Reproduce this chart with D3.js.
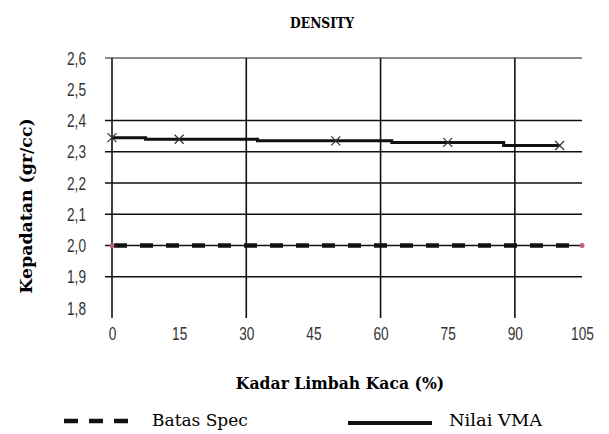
<!DOCTYPE html>
<html><head><meta charset="utf-8">
<script src="https://cdn.jsdelivr.net/npm/d3@7"></script>
<style>body{margin:0;background:#fff}</style>
</head><body>
<script>
const xTicks = [0, 15, 30, 45, 60, 75, 90, 105];
const yTicks = [1.8, 1.9, 2.0, 2.1, 2.2, 2.3, 2.4, 2.5, 2.6];
const yGrid = [1.9, 2.0, 2.1, 2.2, 2.3, 2.4, 2.6];
const xGrid = [0, 30, 60, 90];
const vmaX = [0, 15, 50, 75, 100];
const vmaY = [2.345, 2.34, 2.335, 2.33, 2.32];
const specX = [0, 105];
const specY = [2.0, 2.0];

const W = 609, H = 434;
const SERIF = "DejaVu Serif";
const SANS = "'Liberation Sans', Arial, sans-serif";
const svg = d3.select("body").append("svg").attr("width", W).attr("height", H);
const x = d3.scaleLinear().domain([0, 105]).range([112, 582]);
const y = d3.scaleLinear().domain([1.8, 2.6]).range([308, 58]);
const fmt = d => d3.format(".1f")(d).replace(".", ",");

svg.append("g").selectAll("line").data(yGrid).join("line")
  .attr("x1", x(0) - 7).attr("x2", x(105))
  .attr("y1", d => y(d)).attr("y2", d => y(d))
  .attr("stroke", d => d === 2.6 ? "#666" : "#111").attr("stroke-width", 1.6);
svg.append("g").selectAll("line").data(xGrid).join("line")
  .attr("x1", d => x(d)).attr("x2", d => x(d))
  .attr("y1", y(2.6)).attr("y2", y(1.8) + 10)
  .attr("stroke", "#111").attr("stroke-width", 1.6);

const yAxis = d3.axisLeft(y).tickValues(yTicks).tickFormat(fmt).tickSize(0).tickPadding(0);
const ya = svg.append("g").attr("transform", `translate(${x(0) - 26},0)`).call(yAxis);
ya.select(".domain").remove();
ya.selectAll("text").attr("font-family", SANS).attr("font-size", 19).attr("fill", "#333")
  .attr("transform", "scale(0.72,1)");

const xAxis = d3.axisBottom(x).tickValues(xTicks).tickFormat(d3.format("d")).tickSize(0).tickPadding(0);
const xa = svg.append("g").attr("transform", `translate(0,${y(1.8) + 24})`).call(xAxis);
xa.select(".domain").remove();
xa.selectAll("text").attr("font-family", SANS).attr("font-size", 19).attr("fill", "#333")
  .attr("dy", "0.4em").attr("transform", "scale(0.72,1)");

const specLine = d3.line().x((d, i) => x(specX[i])).y((d, i) => y(specY[i]));
svg.append("path").attr("d", specLine(specX)).attr("fill", "none")
  .attr("stroke", "#111").attr("stroke-width", 1.2);
svg.append("path").attr("d", specLine(specX)).attr("fill", "none")
  .attr("stroke", "#111").attr("stroke-width", 4.5).attr("stroke-dasharray", "13,13")
  .attr("stroke-dashoffset", -2);
svg.append("g").selectAll("circle").data(specX).join("circle")
  .attr("cx", (d, i) => x(d)).attr("cy", (d, i) => y(specY[i])).attr("r", 2.5)
  .attr("fill", "#c0607a");

const vmaLine = d3.line().x((d, i) => x(vmaX[i])).y((d, i) => y(vmaY[i])).curve(d3.curveStep);
svg.append("path").attr("d", vmaLine(vmaX)).attr("fill", "none")
  .attr("stroke", "#111").attr("stroke-width", 3);
const mk = svg.append("g");
vmaX.forEach((v, i) => {
  const cx = x(v), cy = y(vmaY[i]), s = 4.5;
  mk.append("path").attr("d", `M${cx - s},${cy - s}L${cx + s},${cy + s}M${cx - s},${cy + s}L${cx + s},${cy - s}`)
    .attr("stroke", "#333").attr("stroke-width", 1.2);
});

svg.append("text").attr("transform", "translate(322,28) scale(0.82,1)").attr("text-anchor", "middle")
  .attr("font-family", SERIF).attr("font-weight", "bold")
  .attr("font-size", 15).text("DENSITY");
svg.append("text").attr("transform", `translate(32,206) rotate(-90) scale(1.02,1)`)
  .attr("text-anchor", "middle")
  .attr("font-family", SERIF).attr("font-weight", "bold")
  .attr("font-size", 17).text("Kepadatan  (gr/cc)");
svg.append("text").attr("transform", "translate(340,389) scale(0.92,1)").attr("text-anchor", "middle")
  .attr("font-family", SERIF).attr("font-weight", "bold")
  .attr("font-size", 17).text("Kadar Limbah Kaca (%)");

const ly = 421;
const lg = svg.append("g");
lg.append("line").attr("x1", 64).attr("x2", 135).attr("y1", ly).attr("y2", ly)
  .attr("stroke", "#111").attr("stroke-width", 4.5).attr("stroke-dasharray", "14,11");
lg.append("text").attr("transform", `translate(152,${ly + 5}) scale(1.0,1)`)
  .attr("font-family", SERIF).attr("font-size", 17).text("Batas Spec");
lg.append("line").attr("x1", 348).attr("x2", 432).attr("y1", ly + 2).attr("y2", ly + 2)
  .attr("stroke", "#111").attr("stroke-width", 4);
lg.append("text").attr("transform", `translate(449,${ly + 5}) scale(1.05,1)`)
  .attr("font-family", SERIF).attr("font-size", 17).text("Nilai VMA");
</script>
</body></html>
